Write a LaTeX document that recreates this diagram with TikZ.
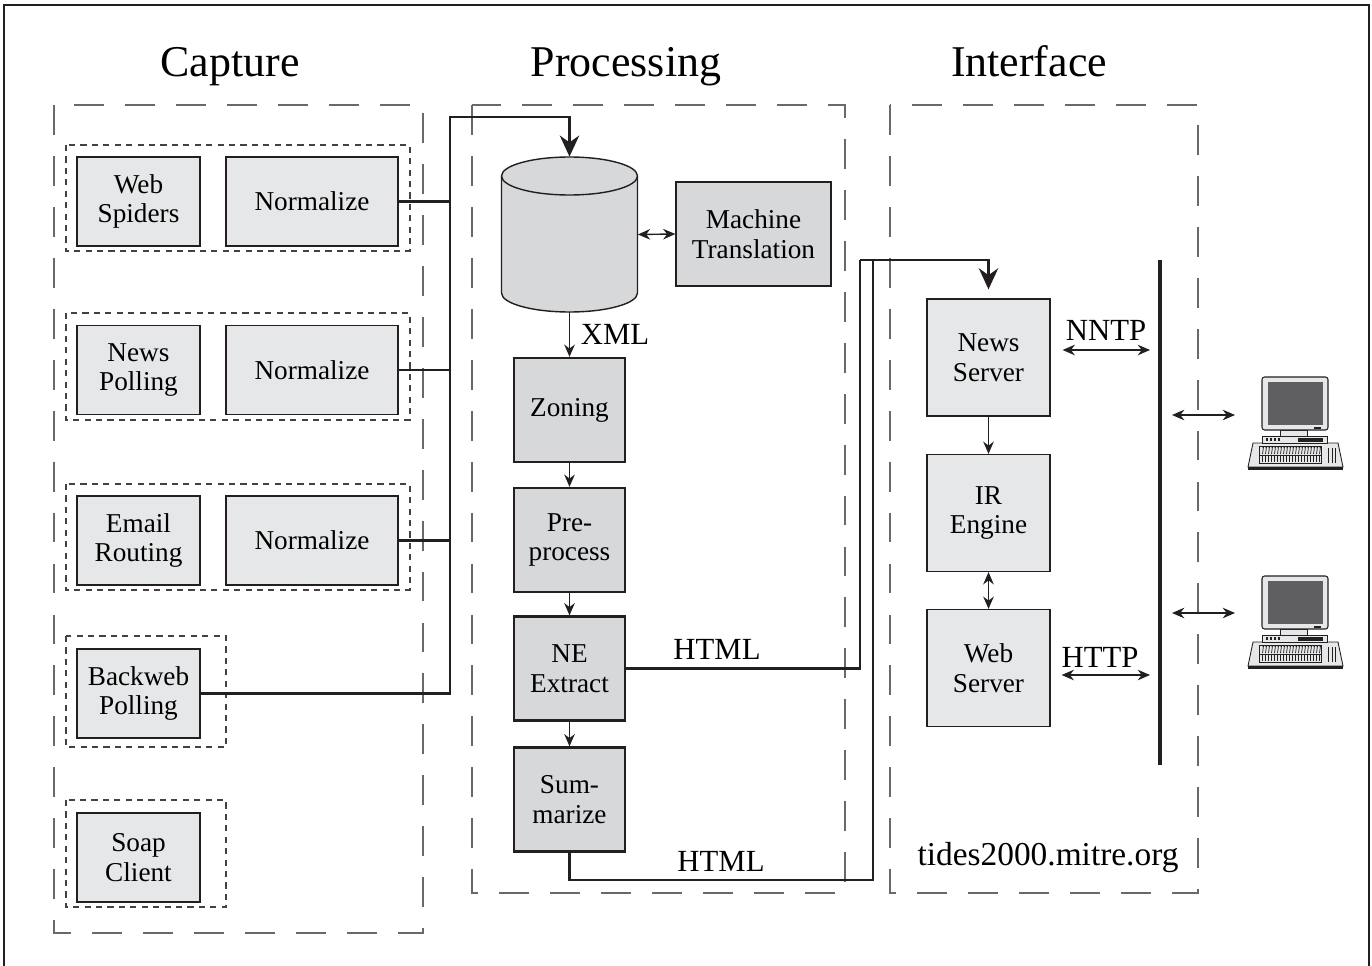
\documentclass[tikz,border=0pt]{standalone}
\usepackage{fontspec}
\setmainfont{Liberation Serif}
\usetikzlibrary{positioning}
\usetikzlibrary{arrows.meta}
\definecolor{boxgray}{RGB}{230,231,232}
\definecolor{procgray}{RGB}{215,216,218}
\definecolor{linegray}{RGB}{35,31,32}
\definecolor{dashgray}{RGB}{105,105,105}
\definecolor{screengray}{RGB}{95,95,97}
\tikzset{>={Stealth[length=7pt,width=6pt]},
src/.style={ % Boxes of the capture and interface columns
draw=linegray,
line width=0.7pt,
fill=boxgray,
align=center,
inner sep=0pt,
font=\fontsize{15.5}{17}\selectfont},
srcbox/.style={src, minimum width=2.46cm, minimum height=1.78cm},
normbox/.style={src, minimum width=3.44cm, minimum height=1.78cm},
iface/.style={src, minimum width=2.46cm, minimum height=2.34cm},
proc/.style={ % Boxes of the processing chain
src,
line width=1.3pt,
fill=procgray,
minimum width=2.22cm,
minimum height=2.08cm},
region/.style={draw=dashgray, line width=0.8pt, dash pattern=on 17pt off 12pt},
group/.style={draw=linegray!85, line width=0.7pt, dash pattern=on 3.5pt off 3pt},
link/.style={draw=linegray, line width=1.5pt},
flow/.style={link, -{Stealth[length=12pt,width=11pt]}},
arr/.style={draw=linegray, line width=0.8pt, ->},
dbl/.style={arr, <->},
title/.style={anchor=base, font=\fontsize{25}{28}\selectfont},
tag/.style={font=\fontsize{17.5}{20}\selectfont},
computer/.pic={ % Desktop computer icon
\draw[linegray, line width=0.5pt, fill=boxgray] (-9,66) -- (76,66) -- (81,90) -- (-14,90) -- cycle;
\fill[linegray] (-14,90) rectangle (81,93);
\draw[linegray, line width=0.4pt] (-3,69) rectangle (59,86);
\draw[linegray, line width=0.4pt] (-3,78) -- (59,78);
\foreach \k in {0,...,19} {
\draw[linegray, line width=0.4pt] (\k*3,70) -- ++(1.5,-0) -- ++(-1,7);
\draw[linegray, line width=0.4pt] (\k*3,79) -- ++(0,6);}
\draw[linegray, line width=0.4pt] (63,71) grid[xstep=3.5,ystep=5] (74,86);
\draw[linegray, line width=0.5pt, fill=boxgray] (0,59) rectangle (65,66);
\fill[linegray] (36,61) rectangle (61,65);
\foreach \k in {0,...,3} \fill[linegray] (4+\k*4,61) rectangle ++(2,3);
\draw[linegray, line width=0.5pt, fill=boxgray] (18,53) rectangle (45,59);
\draw[linegray, line width=0.6pt, fill=boxgray, rounded corners=1.5pt] (0,0) rectangle (66,53);
\fill[screengray] (6,5) rectangle (61,48);
\fill[linegray] (52,49.5) rectangle (59,51.5);}}

\begin{document}
\begin{tikzpicture}[x=0.02cm, y=-0.02cm]
\useasboundingbox (0,0) rectangle (1372,966);
\draw[linegray, line width=0.8pt] (4,980) |- (1369,5) -- (1369,980);

% column titles and dashed regions
\node[title] (capture) at (230,77) {Capture};
\node[title] (processing) at (626,77) {Processing};
\node[title] (interface) at (1029,77) {Interface};
\draw[region] (54,105) rectangle (423,933);
\draw[region] (472,105) rectangle (845,893);
\draw[region] (890,105) rectangle (1198,893);

% capture sources
\draw[group] (66,145) rectangle (410,251);
\draw[group] (66,313) rectangle (410,420);
\draw[group] (66,484) rectangle (410,590);
\draw[group] (66,636) rectangle (226,747);
\draw[group] (66,800) rectangle (226,907);
\node[srcbox] (web) at (138.5,201.5) {Web\\Spiders};
\node[normbox] (norm1) at (312,201.5) {Normalize};
\node[srcbox] (news) at (138.5,370) {News\\Polling};
\node[normbox] (norm2) at (312,370) {Normalize};
\node[srcbox] (email) at (138.5,540.5) {Email\\Routing};
\node[normbox] (norm3) at (312,540.5) {Normalize};
\node[srcbox] (backweb) at (138.5,693.5) {Backweb\\Polling};
\node[srcbox, line width=1.6pt] (soap) at (138.5,857.5) {Soap\\Client};

% processing
\node[inner sep=0pt, minimum width=2.72cm, minimum height=3.1cm] (db) at (569.5,234.5) {};
\draw[linegray, line width=0.8pt, fill=procgray] (501.5,176) -- (501.5,293)
  arc[start angle=180, end angle=360, x radius=1.36cm, y radius=0.38cm] -- (637.5,176);
\draw[linegray, line width=0.8pt, fill=procgray] (569.5,176) ellipse[x radius=1.36cm, y radius=0.38cm];
\node[src, fill=procgray, minimum width=3.1cm, minimum height=2.08cm] (mt) at (753.5,234) {Machine\\Translation};
\node[proc] (zoning) at (569.5,410) {Zoning};
\node[proc] (pre) at (569.5,540) {Pre-\\process};
\node[proc] (ne) at (569.5,668.5) {NE\\Extract};
\node[proc] (sum) at (569.5,799.5) {Sum-\\marize};

% interface
\node[iface] (ns) at (988.5,357.5) {News\\Server};
\node[iface] (ir) at (988.5,513) {IR\\Engine};
\node[iface] (ws) at (988.5,668) {Web\\Server};
\pic (pc1) at (1262,377) {computer};
\pic (pc2) at (1262,576) {computer};

% labels
\node[tag] (xml) at (615,334) {XML};
\node[tag] (html1) at (717,649) {HTML};
\node[tag] (html2) at (721,861) {HTML};
\node[tag] (nntp) at (1106,330) {NNTP};
\node[tag] (http) at (1100,657) {HTTP};
\node[font=\fontsize{19}{22}\selectfont] (site) at (1048,858) {tides2000.mitre.org};

\coordinate (trunk) at (450,117);
\coordinate (htop) at (860,260);
\coordinate (hbot) at (873,880);
\coordinate (bustop) at (1160,260);
\coordinate (busbot) at (1160,765);
\coordinate (nntpend) at (1150,350);
\coordinate (httpend) at (1150,675);
\coordinate (bus1) at (1160,415);
\coordinate (bus2) at (1160,613);
\coordinate (pc1in) at (1235,415);
\coordinate (pc2in) at (1235,613);

% connectors
\draw[link] (norm1.east) -- (norm1.east -| trunk);
\draw[link] (norm2.east) -- (norm2.east -| trunk);
\draw[link] (norm3.east) -- (norm3.east -| trunk);
\draw[flow] (backweb.east) -| (trunk) -| (db.north);
\draw[dbl] (db.east) -- (mt.west);
\draw[arr] (db.south) -- (zoning.north);
\draw (zoning) edge[arr] (pre);
\draw (pre) edge[arr] (ne);
\draw (ne) edge[arr] (sum);
\draw[link] (ne.east) -| (htop);
\draw[link] (sum.south) |- (hbot) -- (hbot |- htop);
\draw[flow, shorten >=0.18cm] (htop) -| (ns.north);
\draw (ns) edge[arr] (ir);
\draw (ir) edge[dbl] (ws);
\draw[dbl, shorten <=0.24cm] (ns.east |- nntpend) -- (nntpend);
\draw[dbl, shorten <=0.22cm] (ws.east |- httpend) -- (httpend);
\draw[linegray, line width=1.8pt] (bustop) -- (busbot);
\draw[dbl, shorten <=0.24cm] (bus1) -- (pc1in);
\draw[dbl, shorten <=0.24cm] (bus2) -- (pc2in);
\end{tikzpicture}
\end{document}
